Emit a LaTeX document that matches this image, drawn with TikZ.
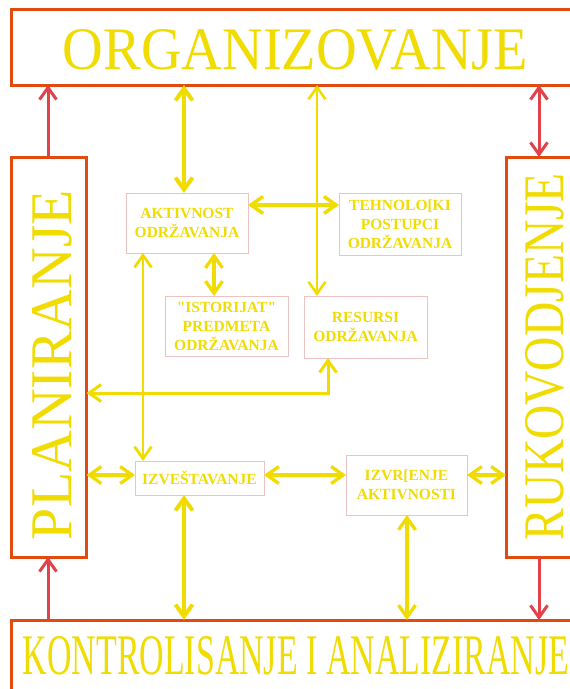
\documentclass[tikz,border=0pt]{standalone}
\usepackage{fontspec}
\setmainfont{Liberation Serif}[Ligatures=TeXOff]
\usetikzlibrary{arrows.meta}
\definecolor{frame}{HTML}{E14B0F}
\definecolor{redarr}{HTML}{E2424A}
\definecolor{ylw}{HTML}{F0DC00}
\definecolor{pinkln}{HTML}{EBC3C3}
\tikzset{
  >={Straight Barb[length=12pt,width=17pt]},
  bigbox/.style={draw=frame,line width=3pt,inner sep=0pt,outer sep=0pt,anchor=north west},
  bigtext/.style={text=ylw,inner sep=0pt,outer sep=0pt},
  smallbox/.style={draw=pinkln,line width=0.9pt,text=ylw,align=center,inner sep=0pt,outer sep=0pt,
    font=\fontsize{15.5}{19}\selectfont\bfseries},
  yarrow/.style={draw=ylw,line width=#1},
  yarrow/.default=3.3pt,
  rarrow/.style={draw=redarr,line width=3pt},
}
\begin{document}
\begin{tikzpicture}[x=1pt,y=-1pt]
\useasboundingbox (0,0) rectangle (570,689);
\clip (0,0) rectangle (570,689);
\fill[white] (0,0) rectangle (570,689);
% big frames
\node[bigbox,minimum width=568pt,minimum height=75.5pt] (org) at (11.5,9.5) {};
\node[bigbox,minimum width=75pt,minimum height=400pt] (plan) at (11.5,157) {};
\node[bigbox,minimum width=84pt,minimum height=400pt] (ruko) at (506,157) {};
\node[bigbox,minimum width=571pt,minimum height=80pt] (kont) at (11.5,620) {};
% big texts
\node[bigtext] (orgt) at (295.5,50) {\resizebox{465pt}{40pt}{ORGANIZOVANJE}};
\node[bigtext] (kontt) at (296,656) {\resizebox{546pt}{38pt}{KONTROLISANJE I ANALIZIRANJE}};
\node[bigtext,rotate=90] (plant) at (52.5,365) {\resizebox{350pt}{39pt}{PLANIRANJE}};
\node[bigtext,rotate=90] (rukot) at (545,356.5) {\resizebox{367pt}{38pt}{RUKOVODJENJE}};
% small boxes
\node[smallbox,minimum width=122pt,minimum height=60pt] (akt) at (187,223) {AKTIVNOST\\ODRŽAVANJA};
\node[smallbox,minimum width=122pt,minimum height=62pt] (teh) at (400,224) {TEHNOLO[KI\\POSTUPCI\\ODRŽAVANJA};
\node[smallbox,minimum width=123pt,minimum height=60pt] (ist) at (226.5,326) {"ISTORIJAT"\\PREDMETA\\ODRŽAVANJA};
\node[smallbox,minimum width=123pt,minimum height=62pt] (res) at (365.5,327) {RESURSI\\ODRŽAVANJA};
\node[smallbox,minimum width=129pt,minimum height=34pt] (izv) at (199.5,478) {IZVEŠTAVANJE};
\node[smallbox,minimum width=121pt,minimum height=60pt] (izvr) at (406.5,485) {IZVR[ENJE\\AKTIVNOSTI};
% yellow connectors
\draw[yarrow=4pt,<->] (org.south -| 184,0) -- (akt.north -| 184,0);
\draw[yarrow=2.6pt,<->] (org.south -| 317,0) -- (res.north -| 317,0);
\draw[yarrow=3.5pt,<->] (akt.east |- 0,205) -- (teh.west |- 0,205);
\draw[yarrow,<->] (akt.south -| 214,0) -- (ist.north -| 214,0);
\draw[yarrow=2.8pt,<->] (akt.south -| 143,0) -- (izv.north -| 143,0);
\draw[yarrow=3pt,<->] (res.south -| 328,0) |- (plan.east |- 0,393);
\draw[yarrow,<->] (plan.east |- 0,475) -- (izv.west |- 0,475);
\draw[yarrow,<->] (izv.east |- 0,475) -- (izvr.west |- 0,475);
\draw[yarrow,<->] (izvr.east |- 0,475) -- (ruko.west |- 0,475);
\draw[yarrow=4pt,<->] (izv.south -| 184,0) -- (kont.north -| 184,0);
\draw[yarrow,<->] (izvr.south -| 407,0) -- (kont.north -| 407,0);
% red connectors
\draw[rarrow,->] (plan.north -| 48,0) -- (org.south -| 48,0);
\draw[rarrow,->] (kont.north -| 48,0) -- (plan.south -| 48,0);
\draw[rarrow,<->] (org.south -| 539,0) -- (ruko.north -| 539,0);
\draw[rarrow,->] (ruko.south -| 539,0) -- (kont.north -| 539,0);
\end{tikzpicture}
\end{document}
